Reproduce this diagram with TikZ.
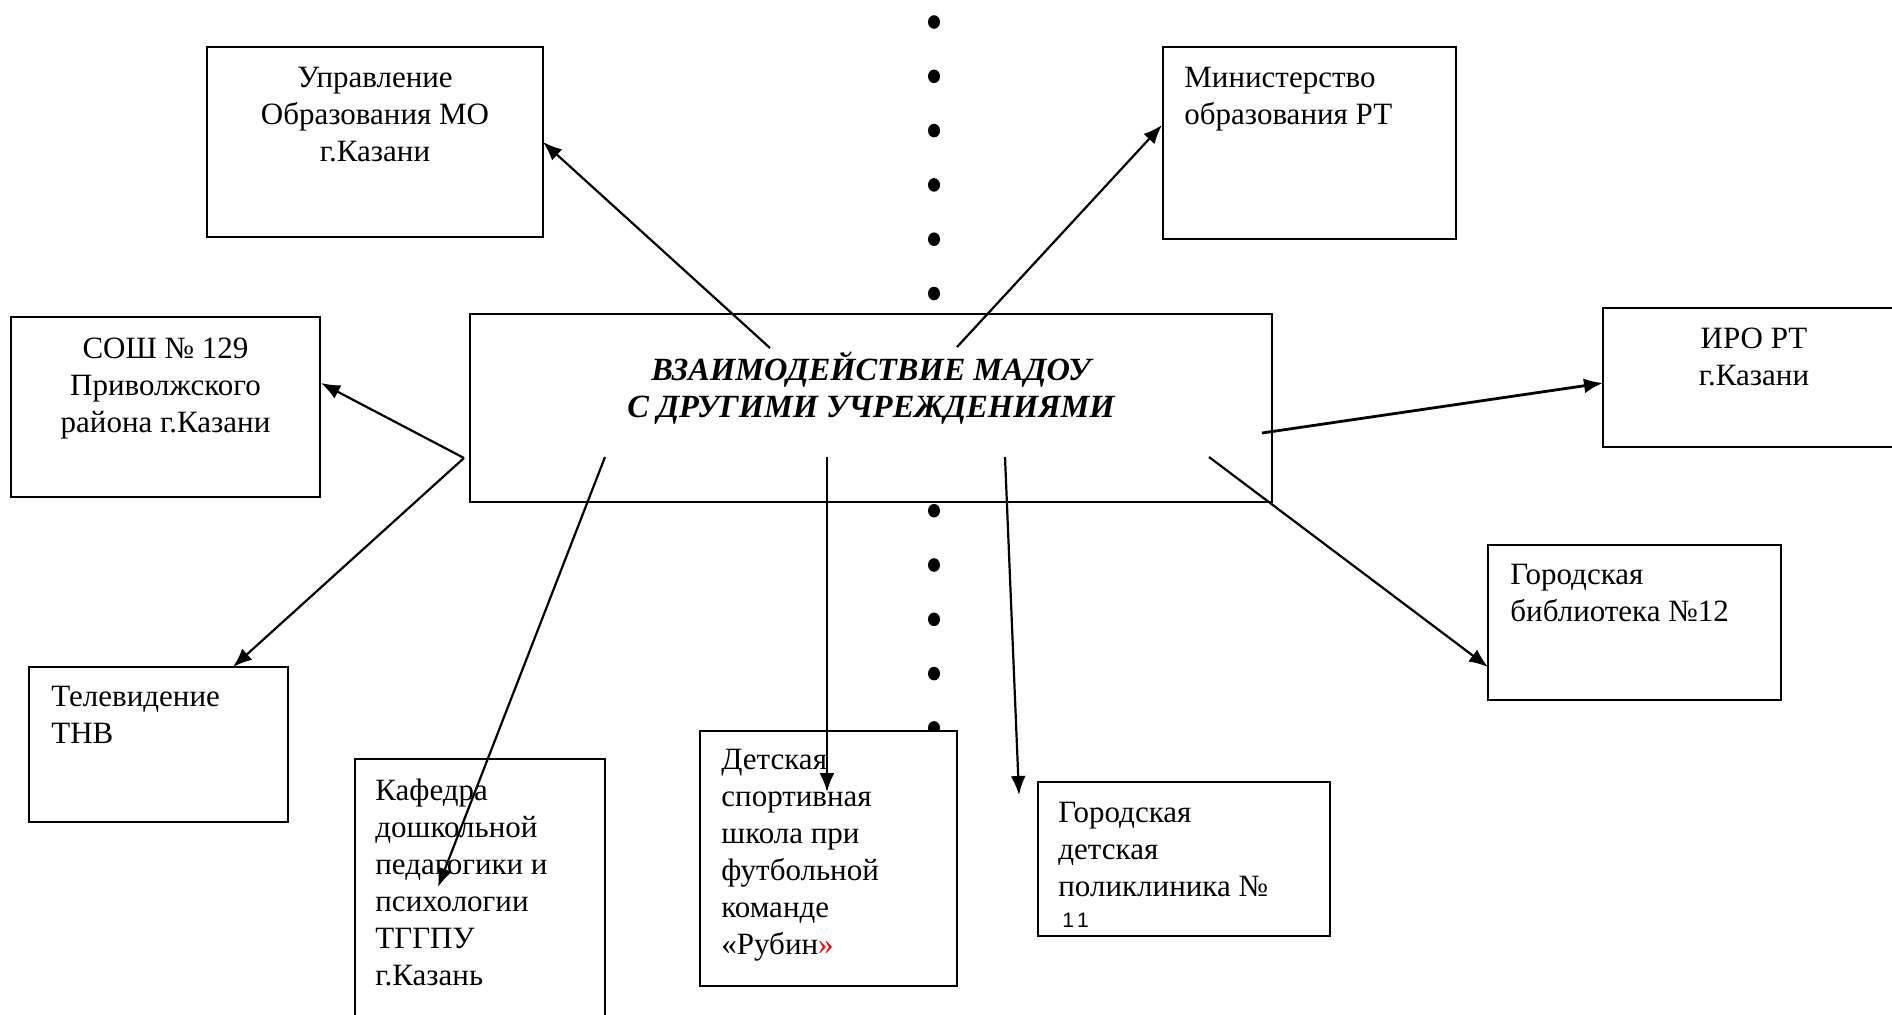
\documentclass[tikz,border=0pt]{standalone}
\usepackage{fontspec}
\setmainfont{Liberation Serif}
\newfontfamily\sansf{Liberation Sans}
\usetikzlibrary{arrows.meta,fit,shapes.geometric}
\begin{document}
\begin{tikzpicture}[x=0.5pt,y=-0.5pt,
  box/.style={draw, line width=1.2pt, fill=white, rectangle, inner sep=0pt, outer sep=0pt},
  txt/.style={inner sep=0pt, font=\fontsize{15.5pt}{18.5pt}\selectfont},
  link/.style={line width=1.1pt, -{Latex[length=9.5pt,width=7.5pt]}},
  dotm/.style={ellipse, fill=black, inner sep=0pt, minimum width=6pt, minimum height=6.8pt}]
\useasboundingbox (0,0) rectangle (1892,1014);
% column of dots
\foreach \k in {0,...,13} \node[dotm] (d\k) at (934,{22+\k*54.3}) {};
% boxes
\node[box, fit={(207,47)(543,237)}] (upr) {};
\node[box, fit={(1163,47)(1456,239)}] (min) {};
\node[box, fit={(11,317)(320,497)}] (sosh) {};
\node[box, fit={(470,314)(1272,502)}] (center) {};
\node[box, fit={(1603,308)(1905,447)}] (iro) {};
\node[box, fit={(29,667)(288,822)}] (tv) {};
\node[box, fit={(355,759)(605,1040)}] (kaf) {};
\node[box, fit={(700,731)(957,986)}] (sport) {};
\node[box, fit={(1038,782)(1330,936)}] (pol) {};
\node[box, fit={(1488,545)(1781,700)}] (bib) {};
% texts
\node[txt, anchor=base] (tupr) at (375,87) {\parbox[t]{160pt}{\centering Управление\\Образования МО\\г.Казани}};
\node[txt, anchor=base west] (tmin) at (1184,87) {\parbox[t]{140pt}{\raggedright Министерство\\образования РТ}};
\node[txt, anchor=base] (tsosh) at (165.5,358) {\parbox[t]{150pt}{\centering СОШ № 129\\Приволжского\\района г.Казани}};
\node[txt, anchor=base, font=\fontsize{16.2pt}{18.5pt}\selectfont\bfseries\itshape] (tcenter) at (871,380) {\parbox[t]{380pt}{\centering ВЗАИМОДЕЙСТВИЕ МАДОУ\\С ДРУГИМИ УЧРЕЖДЕНИЯМИ}};
\node[txt, anchor=base] (tiro) at (1754,348) {\parbox[t]{140pt}{\centering ИРО РТ\\г.Казани}};
\node[txt, anchor=base west] (ttv) at (51,706) {\parbox[t]{120pt}{\raggedright Телевидение\\ТНВ}};
\node[txt, anchor=base west] (tkaf) at (375,800) {\parbox[t]{120pt}{\raggedright Кафедра\\дошкольной\\педагогики и\\психологии\\ТГГПУ\\г.Казань}};
\node[txt, anchor=base west] (tsport) at (721,769) {\parbox[t]{120pt}{\raggedright Детская\\спортивная\\школа при\\футбольной\\команде\\«Рубин\textcolor{red}{»}}};
\node[txt, anchor=base west] (tpol) at (1058,822) {\parbox[t]{140pt}{\raggedright Городская\\детская\\поликлиника №}};
\node[inner sep=0pt, anchor=base west, font=\sansf\fontsize{10.5pt}{12pt}\selectfont] (tpol2) at (1062,927) {1\kern1.5pt1};
\node[txt, anchor=base west] (tbib) at (1510,584) {\parbox[t]{140pt}{\raggedright Городская\\библиотека №12}};
% connector ends
\coordinate (s1) at (770,348);
\coordinate (s2) at (957,347);
\coordinate (s3) at (464,458);
\coordinate (s4) at (1262,433);
\coordinate (s5) at (1209,457);
\coordinate (s6) at (605,457);
\coordinate (s7) at (827,457);
\coordinate (s8) at (1005,457);
\coordinate (e2) at (1162,125);
\coordinate (e3) at (321,383);
\coordinate (e4) at (233,667);
\coordinate (e5) at (1603,383);
\coordinate (e6) at (1488,667);
\coordinate (e7) at (438,887);
\coordinate (e8) at (827,792);
\coordinate (e9) at (1019,795);
% connectors
\draw[link] (s1) -- (upr.east);
\draw[link] (s2) -- (e2);
\draw[link] (s3) -- (e3);
\draw[link] (s3) -- (e4);
\draw[link, line width=1.4pt] (s4) -- (e5);
\draw[link] (s5) -- (e6);
\draw[link] (s6) -- (e7);
\draw[link] (s7) -- (e8);
\draw[link] (s8) -- (e9);
\end{tikzpicture}
\end{document}
